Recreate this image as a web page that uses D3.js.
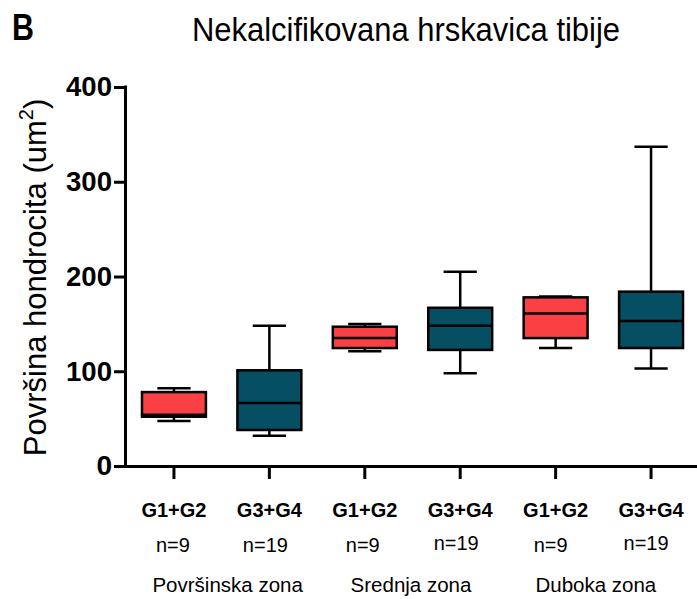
<!DOCTYPE html>
<html>
<head>
<meta charset="utf-8">
<script src="https://cdn.jsdelivr.net/npm/d3@7"></script>
<style>
  body { margin: 0; background: #fff; }
  svg { display: block; font-family: "Liberation Sans", Arial, sans-serif; }
</style>
</head>
<body>
<svg id="chart" width="697" height="599"></svg>
<script>
const groups = ['G1+G2', 'G3+G4', 'G1+G2', 'G3+G4', 'G1+G2', 'G3+G4'];
const counts = ['n=9', 'n=19', 'n=9', 'n=19', 'n=9', 'n=19'];
const zones = ['Površinska zona', 'Srednja zona', 'Duboka zona'];
const whiskerLow = [47.5, 32, 121, 98, 124.5, 103];
const boxLow = [52, 38, 124.5, 122.5, 135, 124.5];
const medians = [54, 66.5, 135, 148, 161, 153];
const boxHigh = [78, 101, 147, 167, 178, 184];
const whiskerHigh = [82, 148, 150, 205, 179, 337];
const yTicks = [0, 100, 200, 300, 400];

const colors = ['#f94144', '#064e62'];

const svg = d3.select('#chart');
const x0 = 125, yBottom = 466, yTop = 87;

const x = d3.scaleBand()
    .domain(d3.range(groups.length))
    .range([125, 700])
    .paddingInner(0.33)
    .paddingOuter(0.178);

const y = d3.scaleLinear().domain([0, 400]).range([yBottom, yTop]);

const boxes = groups.map((g, i) => ({
    i, g,
    lo: whiskerLow[i], q1: boxLow[i], med: medians[i], q3: boxHigh[i], hi: whiskerHigh[i],
}));

// title and panel letter
svg.append('text').attr('x', 12).attr('y', 40)
    .attr('font-size', 36).attr('font-weight', 700)
    .attr('textLength', 22).attr('lengthAdjust', 'spacingAndGlyphs').text('B');
svg.append('text').attr('x', 406).attr('y', 41)
    .attr('text-anchor', 'middle').attr('font-size', 33)
    .attr('textLength', 428).attr('lengthAdjust', 'spacingAndGlyphs')
    .text('Nekalcifikovana hrskavica tibije');

// y axis
const yAxis = svg.append('g').attr('transform', `translate(${x0},0)`)
    .call(d3.axisLeft(y).tickValues(yTicks).tickSize(11).tickPadding(2).tickSizeOuter(0));
yAxis.select('.domain').attr('stroke-width', 3).attr('d', `M0.5,${yTop - 1.5}V${yBottom + 1.5}`);
yAxis.selectAll('.tick line').attr('stroke-width', 3);
yAxis.selectAll('.tick text')
    .attr('font-size', 28).attr('font-weight', 700).attr('fill', '#000')
    .attr('font-family', '"Liberation Sans", Arial, sans-serif')
    .attr('textLength', d => d === 0 ? null : 46).attr('lengthAdjust', 'spacingAndGlyphs');

svg.append('text')
    .attr('transform', `translate(46,${(yTop + yBottom) / 2 + 1}) rotate(-90)`)
    .attr('text-anchor', 'middle').attr('font-size', 31)
    .call(t => {
        t.append('tspan').text('Površina hondrocita (um');
        t.append('tspan').attr('font-size', 20).attr('dy', -13).text('2');
        t.append('tspan').attr('dy', 13).text(')');
    });

// x axis
const xAxis = svg.append('g').attr('transform', `translate(0,${yBottom})`)
    .call(d3.axisBottom(x).tickSize(13).tickFormat('').tickSizeOuter(0));
xAxis.select('.domain').attr('stroke-width', 3).attr('d', `M${x0 - 1},0.5H697`);
xAxis.selectAll('.tick line').attr('stroke-width', 3);

const labels = svg.append('g');
labels.selectAll('text.grp').data(groups).join('text')
    .attr('class', 'grp')
    .attr('x', (d, i) => x(i) + x.bandwidth() / 2)
    .attr('y', 517)
    .attr('text-anchor', 'middle').attr('font-size', 20).attr('font-weight', 700)
    .text(d => d);
labels.selectAll('text.cnt').data(counts).join('text')
    .attr('class', 'cnt')
    .attr('x', (d, i) => x(i) + x.bandwidth() / 2 + [-1, -4, -2, -4, -5, -5][i])
    .attr('y', (d, i) => i === 3 || i === 5 ? 550 : 552)
    .attr('text-anchor', 'middle').attr('font-size', 20)
    .text(d => d);
labels.selectAll('text.zone').data(zones).join('text')
    .attr('class', 'zone')
    .attr('x', (d, i) => (x(2 * i) + x(2 * i + 1) + x.bandwidth()) / 2 + [6, -1.5, -7.5][i])
    .attr('y', 592)
    .attr('text-anchor', 'middle').attr('font-size', 20.5)
    .text(d => d);

// boxes
const plot = svg.append('g');
const bw = x.bandwidth();
const capW = bw * 0.52;

const g = plot.selectAll('g.box').data(boxes).join('g')
    .attr('class', 'box')
    .attr('transform', d => `translate(${x(d.i) + bw / 2},0)`);

g.append('line')
    .attr('y1', d => y(d.hi)).attr('y2', d => y(d.lo))
    .attr('stroke', '#000').attr('stroke-width', 2.5);
g.append('line')
    .attr('x1', -capW / 2).attr('x2', capW / 2)
    .attr('y1', d => y(d.hi)).attr('y2', d => y(d.hi))
    .attr('stroke', '#000').attr('stroke-width', 2.5);
g.append('line')
    .attr('x1', -capW / 2).attr('x2', capW / 2)
    .attr('y1', d => y(d.lo)).attr('y2', d => y(d.lo))
    .attr('stroke', '#000').attr('stroke-width', 2.5);
g.append('rect')
    .attr('x', -bw / 2).attr('width', bw)
    .attr('y', d => y(d.q3)).attr('height', d => y(d.q1) - y(d.q3))
    .attr('fill', d => colors[d.i % 2])
    .attr('stroke', '#000').attr('stroke-width', 2.5);
g.append('line')
    .attr('x1', -bw / 2).attr('x2', bw / 2)
    .attr('y1', d => y(d.med)).attr('y2', d => y(d.med))
    .attr('stroke', '#000').attr('stroke-width', 2.5);
</script>
</body>
</html>
